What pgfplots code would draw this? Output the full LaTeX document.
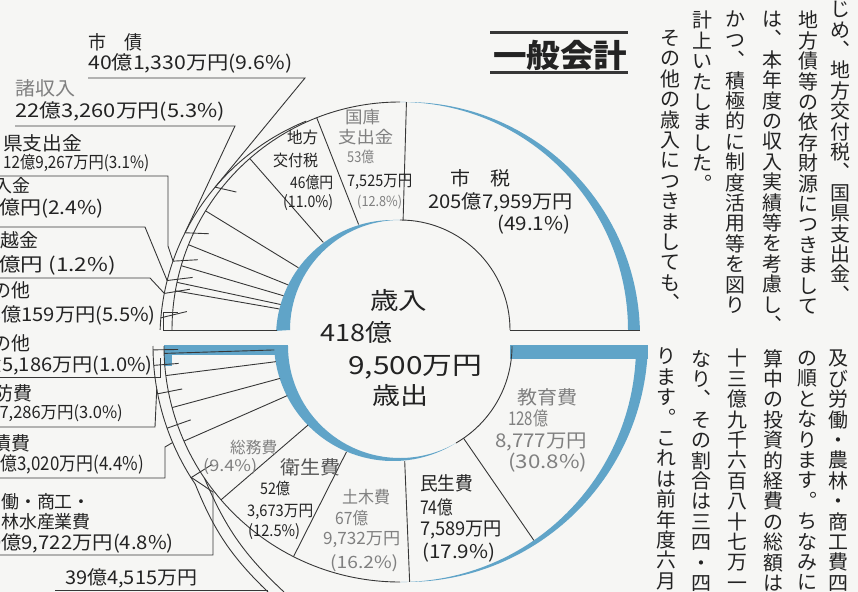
\documentclass[border=0pt]{standalone}
\usepackage{fontspec}
\usepackage{graphicx}
\usepackage{pgfplots}
\pgfplotsset{compat=1.18}
\usetikzlibrary{calc}
\newfontfamily\jp{Noto Sans CJK JP}
\definecolor{bg}{RGB}{246,246,244}
\definecolor{band}{RGB}{96,164,200}
\definecolor{ink}{RGB}{35,35,35}
\definecolor{gry}{RGB}{128,128,128}
\definecolor{dgry}{RGB}{85,85,85}
\definecolor{ln}{RGB}{55,55,55}
\newcommand\fw[2]{\resizebox{#1bp}{\height}{#2}}
\makeatletter
\def\vt@a#1{\ifx#1\@nil\expandafter\@gobble\else\expandafter\@firstofone\fi{\hbox to 1em{\hss#1\hss}\vt@a}}
\newcommand\vt[1]{\vbox{\baselineskip=20.4bp\lineskiplimit=-100bp\lineskip=0bp\vt@a#1\@nil}}
\makeatother
\tikzset{
  sl/.style={draw=ln, line width=0.9bp},
  lab/.style={anchor=west, inner sep=0pt, text=ink, font=\jp\fontsize{19}{19}\selectfont},
  labe/.style={anchor=east, inner sep=0pt, text=ink, font=\jp\fontsize{19}{19}\selectfont},
  vtx/.style={anchor=north, inner sep=0pt, text=ink, font=\jp\fontsize{20}{20.4}\selectfont},
}
% shares (percent)
\def\revenue{49.1,12.8,11.0,9.6,5.3,3.1,2.4,1.2,5.5}
\def\expense{30.8,17.9,16.2,12.5,9.4,4.8,4.4,3.0,1.0}
\begin{document}
\begin{tikzpicture}
\begin{axis}[name=ax, x=1bp, y=1bp, y dir=reverse, xmin=0, xmax=858, ymin=0, ymax=592,
  hide axis, scale only axis, clip=false]
\fill[bg] (0,0) rectangle (858,592);
\coordinate (P1) at (0,0);
\coordinate (P2) at (858,592);
\coordinate (Cr) at (400,330);
\coordinate (Cri) at (393,337);
\coordinate (Cro) at (406,336);
\coordinate (Crt) at (394,338);
\coordinate (Ce) at (400,346);
\coordinate (Cei) at (393,342);
\coordinate (Ceo) at (406,340);

% ---------- revenue half ----------
\fill[band] ($(Cr)+(90:110bp)$) arc[start angle=90,end angle=180,radius=110bp]
   -- ($(Cri)+(177:117bp)$) arc[start angle=177,end angle=90,radius=117bp] -- cycle;
\fill[band] ($(Cr)+(0:228bp)$) arc[start angle=0,end angle=90,radius=228bp]
   -- ($(Cro)+(90:234bp)$) arc[start angle=90,end angle=1.5,radius=234bp] -- cycle;
\draw[sl] ($(Cr)+(90:228bp)$) arc[start angle=90,end angle=180,radius=228bp];
\draw[sl] ($(Cr)+(0:110bp)$) arc[start angle=0,end angle=90,radius=110bp];
\draw[sl] ($(Crt)+(112:234bp)$) arc[start angle=112,end angle=178,radius=234bp];
\draw[sl] (163,330) -- (277,330);
\draw[sl] (510,330) -- (640,330);
\gdef\cum{0}
\foreach \p [count=\i] in \revenue {
  \pgfmathsetmacro\m{\cum+0.9*\p}
  \pgfmathsetmacro\a{\cum+1.8*\p}
  \xdef\cum{\a}
  \pgfmathsetmacro\ri{\a>90 ? 110+14*(\a-90)/90 : 110}
  \ifnum\i<9
    \edef\tmp{\noexpand\draw[sl] ($(Cr)+(\a:\ri bp)$) -- ($(Cr)+(\a:228bp)$);}\tmp
  \fi
  \ifnum\i>3
    \edef\tmp{\noexpand\draw[sl] ($(Cr)+(\m:214bp)$) -- ($(Crt)+(\m:234bp)$);}\tmp
  \fi
}
% leaders (revenue)
\draw[sl] (88,78) -- (305,78) -- ($(Crt)+(139.9:234bp)$);
\draw[sl] (15,126) -- (235,126) -- ($(Crt)+(153.3:234bp)$);
\draw[sl] (0,176) -- (168,176) -- (168,246) -- ($(Crt)+(160.8:234bp)$);
\draw[sl] (0,227) -- (145,227) -- ($(Crt)+(165.8:234bp)$);
\draw[sl] (0,278) -- (150,278) -- ($(Crt)+(169.0:234bp)$);
\draw[sl] (163,330) -- (163,312) -- (178,312);

% ---------- expenditure half ----------
\fill[band] ($(Ce)+(180:112bp)$) arc[start angle=180,end angle=300,radius=112bp]
   -- ($(Cei)+(300:119bp)$) arc[start angle=300,end angle=182,radius=119bp] -- cycle;
\fill[band] ($(Ce)+(270:236bp)$) arc[start angle=270,end angle=360,radius=236bp]
   -- ($(Ceo)+(358.6:242bp)$) arc[start angle=358.6,end angle=270,radius=242bp] -- cycle;
\fill[band] (164,345) rectangle (288,355);
\fill[band] (164,345) rectangle (172,366);
\fill[band] (510,345) rectangle (648,359);
\draw[sl] ($(Ce)+(180:236bp)$) arc[start angle=180,end angle=270,radius=236bp];
\draw[sl] ($(Ce)+(300:112bp)$) arc[start angle=300,end angle=360,radius=112bp];
\draw[sl] ($(Ce)+(180:247bp)$) arc[start angle=180,end angle=214,radius=247bp];
\gdef\cum{0}
\foreach \p [count=\i] in \expense {
  \pgfmathsetmacro\m{360-\cum-0.9*\p}
  \pgfmathsetmacro\a{\cum+1.8*\p}
  \xdef\cum{\a}
  \pgfmathsetmacro\f{360-\a}
  \pgfmathsetmacro\ri{\f<300 ? 112+14*(300-\f)/120 : 112}
  \ifnum\i<9
    \edef\tmp{\noexpand\draw[sl] ($(Ce)+(\f:\ri bp)$) -- ($(Ce)+(\f:236bp)$);}\tmp
  \fi
  \ifnum\i>4
    \edef\tmp{\noexpand\draw[sl] ($(Ce)+(\m:222bp)$) -- ($(Ce)+(\m:247bp)$);}\tmp
  \fi
}
% leaders (expenditure)
\draw[sl] (0,377) -- (160,377) -- (160,358);
\draw[sl] (0,427) -- (155,427) -- ($(Ce)+(190:247bp)$);
\draw[sl] (0,478) -- (165,478) -- (165,447) -- ($(Ce)+(203:247bp)$);
\draw[sl] (0,555) -- (213,555) -- (213,492) -- ($(Ce)+(212:247bp)$);
\draw[sl] (55,590) -- (268,590);
\draw[sl] (268,592) to[bend left=12] ($(Ce)+(214:247bp)$);
\draw[sl] (284,592) to[bend left=12] ($(Ce)+(214:236bp)$);

% ---------- title ----------
\draw[ln, line width=3bp] (490,33) -- (628,33);
\draw[ln, line width=3bp] (490,73) -- (628,73);
\node[inner sep=0pt, text=ink, font=\jp\bfseries\fontsize{32}{32}\selectfont] at (560,55) {\fw{134}{一般会計}};

% ---------- left labels (revenue) ----------
\node[lab] at (88,42) {\fw{54}{市　債}};
\node[lab] at (88,63) {\fw{204}{40億1,330万円(9.6\%)}};
\node[lab, text=gry] at (15,88) {\fw{60}{諸収入}};
\node[lab] at (15,111) {\fw{210}{22億3,260万円(5.3\%)}};
\node[lab] at (3,143) {\fw{79}{県支出金}};
\node[lab, font=\jp\fontsize{17}{17}\selectfont] at (3,163) {\fw{146}{12億9,267万円(3.1\%)}};
\node[labe, font=\jp\fontsize{18}{18}\selectfont] at (31,186) {繰入金};
\node[labe] at (104,208) {\fw{128}{10億円(2.4\%)}};
\node[labe] at (39,240) {繰越金};
\node[labe] at (116,265) {\fw{130}{5億円 (1.2\%)}};
\node[labe] at (31,290) {その他};
\node[labe] at (156,315) {\fw{177}{23億159万円(5.5\%)}};
% ---------- left labels (expenditure) ----------
\node[labe] at (31,343) {その他};
\node[labe] at (153,365) {\fw{182}{4億5,186万円(1.0\%)}};
\node[labe] at (33,393) {消防費};
\node[labe, font=\jp\fontsize{17}{17}\selectfont] at (123,413) {\fw{158}{12億7,286万円(3.0\%)}};
\node[labe] at (31,443) {公債費};
\node[labe] at (144,464) {\fw{162}{18億3,020万円(4.4\%)}};
\node[labe, font=\jp\fontsize{18}{18}\selectfont] at (91,502) {労働・商工・};
\node[labe, font=\jp\fontsize{18}{18}\selectfont] at (91,522) {農林水産業費};
\node[labe] at (174,543) {\fw{195}{19億9,722万円(4.8\%)}};
\node[lab] at (65,578) {\fw{132}{39億4,515万円}};

% ---------- revenue slice labels ----------
\node[lab] at (450,178) {\fw{60}{市　税}};
\node[lab] at (428,202) {\fw{145}{205億7,959万円}};
\node[lab] at (497,225) {\fw{73}{(49.1\%)}};
\node[lab, text=gry, font=\jp\fontsize{17}{17}\selectfont] at (345,117) {\fw{35}{国庫}};
\node[lab, text=gry, font=\jp\fontsize{17}{17}\selectfont] at (338,137) {\fw{55}{支出金}};
\node[lab, text=gry, font=\jp\fontsize{15}{15}\selectfont] at (347,157) {\fw{27}{53億}};
\node[lab, font=\jp\fontsize{16}{16}\selectfont] at (347,182) {\fw{65}{7,525万円}};
\node[lab, text=gry, font=\jp\fontsize{14}{14}\selectfont] at (357,202) {\fw{45}{(12.8\%)}};
\node[lab, font=\jp\fontsize{16}{16}\selectfont] at (287,137) {\fw{31}{地方}};
\node[lab, font=\jp\fontsize{16}{16}\selectfont] at (273,160) {\fw{45}{交付税}};
\node[lab, font=\jp\fontsize{16}{16}\selectfont] at (290,182) {\fw{43}{46億円}};
\node[lab, font=\jp\fontsize{16}{16}\selectfont] at (283,203) {\fw{50}{(11.0\%)}};

% ---------- centre ----------
\node[lab, font=\jp\fontsize{24}{24}\selectfont] at (370,300) {\fw{57}{歳入}};
\node[lab, font=\jp\fontsize{24}{24}\selectfont] at (320,332) {\fw{72}{418億}};
\node[lab, font=\jp\fontsize{25}{25}\selectfont] at (348,367) {\fw{134}{9,500万円}};
\node[lab, font=\jp\fontsize{24}{24}\selectfont] at (372,395) {\fw{56}{歳出}};

% ---------- expenditure slice labels ----------
\node[lab, text=gry] at (517,397) {\fw{60}{教育費}};
\node[lab, text=gry] at (508,418) {\fw{40}{128億}};
\node[lab, text=gry] at (495,442) {\fw{92}{8,777万円}};
\node[lab, text=gry] at (508,463) {\fw{79}{(30.8\%)}};
\node[lab] at (420,483) {\fw{53}{民生費}};
\node[lab] at (420,507) {\fw{33}{74億}};
\node[lab] at (420,530) {\fw{82}{7,589万円}};
\node[lab] at (422,553) {\fw{73}{(17.9\%)}};
\node[lab, text=gry, font=\jp\fontsize{17}{17}\selectfont] at (342,497) {\fw{48}{土木費}};
\node[lab, text=gry, font=\jp\fontsize{17}{17}\selectfont] at (335,518) {\fw{33}{67億}};
\node[lab, text=gry, font=\jp\fontsize{17}{17}\selectfont] at (323,540) {\fw{77}{9,732万円}};
\node[lab, text=gry, font=\jp\fontsize{17}{17}\selectfont] at (330,563) {\fw{68}{(16.2\%)}};
\node[lab, text=dgry] at (280,467) {\fw{60}{衛生費}};
\node[lab, font=\jp\fontsize{16}{16}\selectfont] at (260,488) {\fw{30}{52億}};
\node[lab, font=\jp\fontsize{16}{16}\selectfont] at (247,512) {\fw{66}{3,673万円}};
\node[lab, font=\jp\fontsize{16}{16}\selectfont] at (248,532) {\fw{52}{(12.5\%)}};
\node[lab, text=gry, font=\jp\fontsize{16}{16}\selectfont] at (230,447) {\fw{47}{総務費}};
\node[lab, text=gry, font=\jp\fontsize{16}{16}\selectfont] at (203,467) {\fw{54}{(9.4\%)}};

% ---------- vertical body text ----------
\node[vtx] at (840,1) {\vt{じめ︑地方交付税︑国県支出金︑}};
\node[vtx] at (808,11) {\vt{地方債等の依存財源につきまして}};
\node[vtx] at (772,11) {\vt{は︑本年度の収入実績等を考慮し︑}};
\node[vtx] at (735,11) {\vt{かつ︑積極的に制度活用等を図り}};
\node[vtx] at (702,11) {\vt{計上いたしました︒}};
\node[vtx] at (670,30) {\vt{その他の歳入につきましても︑}};
\node[vtx] at (838,350) {\vt{及び労働・農林・商工費四}};
\node[vtx] at (807,351) {\vt{の順となります︒ちなみに}};
\node[vtx] at (773,349) {\vt{算中の投資的経費の総額は}};
\node[vtx] at (737,349) {\vt{十三億九千六百八十七万一}};
\node[vtx] at (701,350) {\vt{なり︑その割合は三四・四}};
\node[vtx] at (666,348) {\vt{ります︒これは前年度六月}};
\end{axis}
\pgfresetboundingbox
\path[use as bounding box] (P1) rectangle (P2);
\end{tikzpicture}
\end{document}
